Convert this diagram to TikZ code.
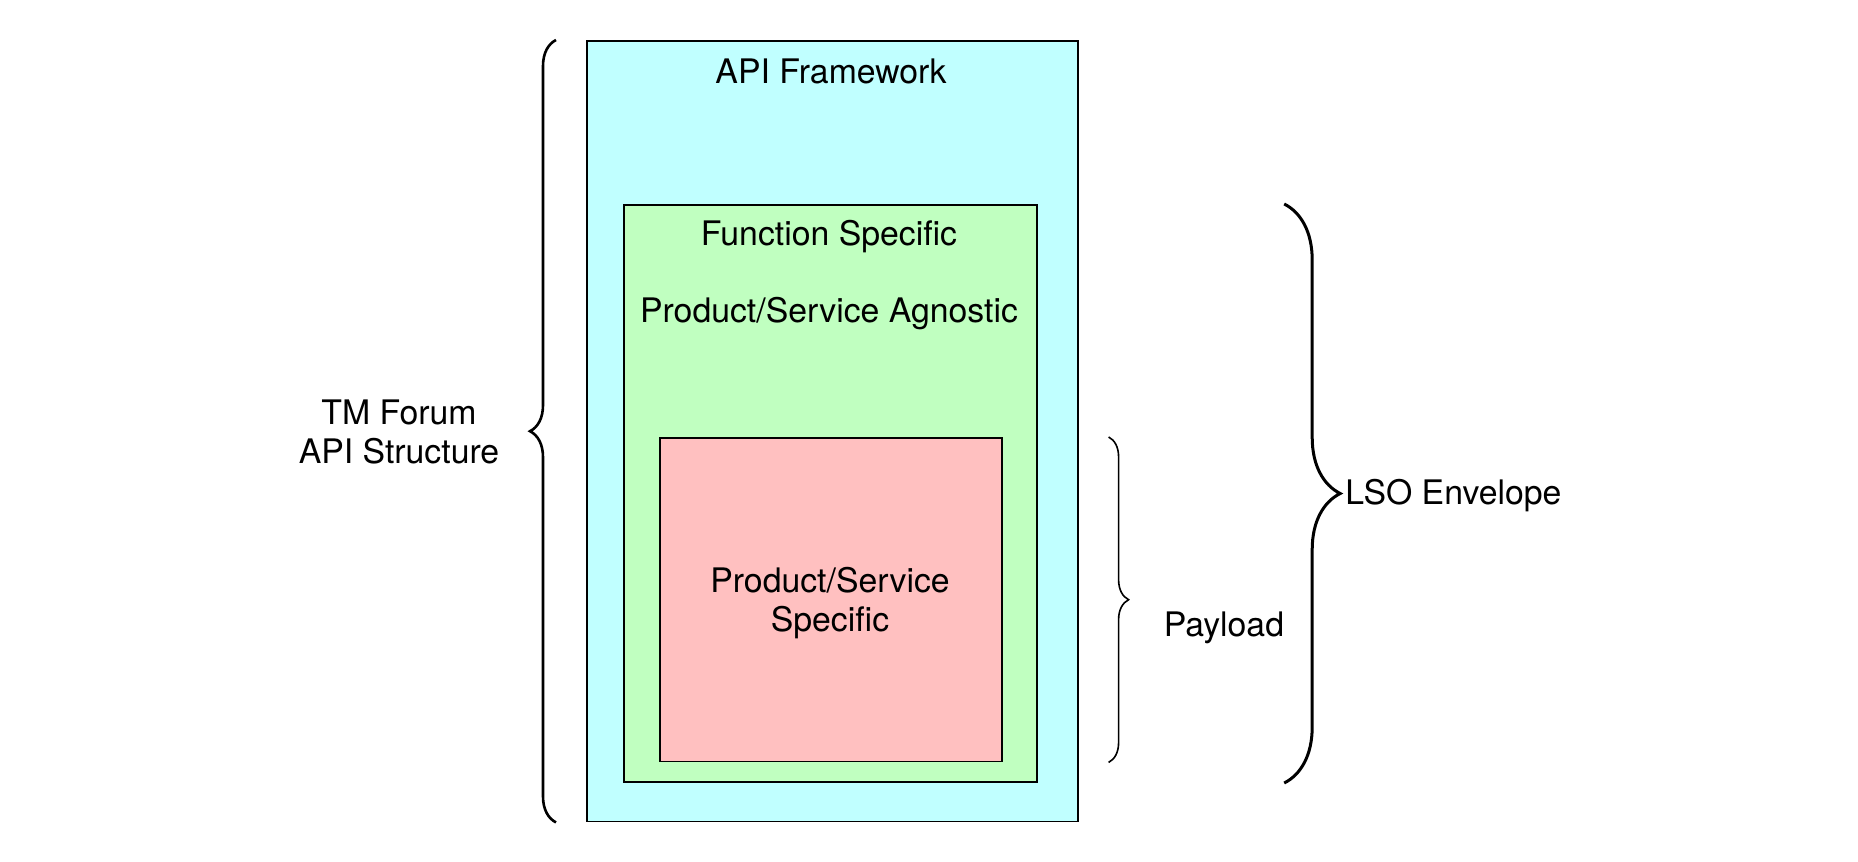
\documentclass[tikz,border=0pt]{standalone}
\usepackage{fontspec}
\setmainfont{TeX Gyre Heros}
\usetikzlibrary{decorations.pathreplacing}
\definecolor{apiblue}{HTML}{C0FFFF}
\definecolor{fungreen}{HTML}{C0FFC0}
\definecolor{prdred}{HTML}{FFC0C0}

\begin{document}
\begin{tikzpicture}[x=0.5pt, y=-0.5pt,
    box/.style={draw=black, line width=0.9pt, inner sep=0pt, anchor=north west},
    lbl/.style={font=\fontsize{16.9}{19.5}\selectfont, inner sep=0pt, align=center},
    curly/.style={decorate, decoration={brace, amplitude=#1}}]
    \useasboundingbox (0,0) rectangle (1858,862);

% boxes
    \node[box, fill=apiblue, minimum width=245.7pt, minimum height=390.3pt] (API) at (586,40) {};
    \node[box, fill=fungreen, minimum width=206.7pt, minimum height=288.6pt] (FUN) at (623,204) {};
    \node[box, fill=prdred, minimum width=170.9pt, minimum height=161.8pt] (PRD) at (659,437) {};

% texts
    \node[lbl, anchor=base] (APIt) at (831,83) {API Framework};
    \node[lbl, anchor=base] (FUNt) at (829,245) {Function Specific};
    \node[lbl, anchor=base] (AGNt) at (829,322) {Product/Service Agnostic};
    \node[lbl] (PRDt) at (830,603) {Product/Service\\Specific};
    \node[lbl] (TMF) at (399,432) {TM Forum\\API Structure};
    \node[lbl, anchor=base] (PAY) at (1224,636) {Payload};
    \node[lbl, anchor=base west] (LSO) at (1345,504) {LSO Envelope};

% braces
    \coordinate (B1a) at ([xshift=-15pt]API.south west);
    \coordinate (B1b) at ([xshift=-15pt]API.north west);
    \coordinate (B2a) at ([xshift=53pt]PRD.north east);
    \coordinate (B2b) at ([xshift=53pt]PRD.south east);
    \coordinate (B3a) at ([xshift=123pt]FUN.north east);
    \coordinate (B3b) at ([xshift=123pt]FUN.south east);

    \draw[curly=13pt, line width=1.3pt] (B1a) -- (B1b);
    \draw[curly=10pt, line width=0.8pt] (B2a) -- (B2b);
    \draw[curly=28pt, line width=1.5pt] (B3a) -- (B3b);

\end{tikzpicture}
\end{document}
